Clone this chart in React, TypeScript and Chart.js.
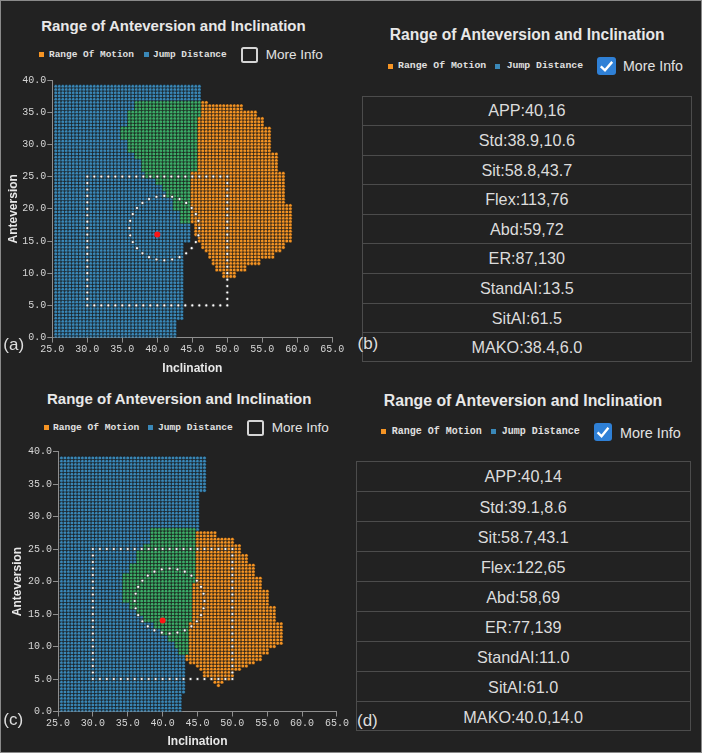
import React, { useEffect, useRef } from "react";
import { Chart, registerables } from "chart.js";

Chart.register(...registerables);

// ---------- axis / scale values ----------
const X_MIN = 25;
const X_MAX = 65;
const X_STEP = 5;
const Y_MIN = 0;
const Y_MAX = 40;
const Y_STEP = 5;
const GRID_STEP = 0.5;

// ---------- texts ----------
const TITLE = "Range of Anteversion and Inclination";
const X_TITLE = "Inclination";
const Y_TITLE = "Anteversion";
const LEGEND_LABELS = ["Range Of Motion", "Jump Distance"];
const CHECK_LABEL = "More Info";
const PANEL_LABELS = ["(a)", "(b)", "(c)", "(d)"];

const TABLE_B = ["APP:40,16", "Std:38.9,10.6", "Sit:58.8,43.7", "Flex:113,76", "Abd:59,72", "ER:87,130", "StandAI:13.5", "SitAI:61.5", "MAKO:38.4,6.0"];
const TABLE_D = ["APP:40,14", "Std:39.1,8.6", "Sit:58.7,43.1", "Flex:122,65", "Abd:58,69", "ER:77,139", "StandAI:11.0", "SitAI:61.0", "MAKO:40.0,14.0"];

// ---------- grid regions, rows of cells: [yTop, yBottom, xStart, xEnd] ----------
type Band = [number, number, number, number];

const BLUE_A: Band[] = [
  [39, 37, 25.5, 46],
  [36.5, 35.5, 25.5, 36.5],
  [35, 33, 25.5, 35.5],
  [32.5, 31, 25.5, 34.5],
  [30.5, 29, 25.5, 35.5],
  [28.5, 28, 25.5, 36.5],
  [27.5, 26, 25.5, 37.5],
  [25.5, 25, 25.5, 38],
  [24.5, 24, 25.5, 39.5],
  [23.5, 23, 25.5, 40.5],
  [22.5, 22, 25.5, 41],
  [21.5, 20, 25.5, 42],
  [19.5, 18, 25.5, 43],
  [17.5, 15, 25.5, 44.5],
  [14.5, 3, 25.5, 43.5],
  [2.5, 0, 25.5, 42.5],
];
const GREEN_A: Band[] = [
  [36.5, 35.5, 37, 46],
  [35, 34.5, 36, 46],
  [34, 33, 36, 45.5],
  [32.5, 31, 35, 45.5],
  [30.5, 29, 36, 45.5],
  [28.5, 28, 37, 45.5],
  [27.5, 26, 38, 45.5],
  [25.5, 25, 38.5, 44.5],
  [24.5, 24, 40, 44.5],
  [23.5, 23, 41, 44.5],
  [22.5, 22, 41.5, 44.5],
  [21.5, 20, 42.5, 44.5],
  [19.5, 18, 43.5, 44.5],
];
const ORANGE_A: Band[] = [
  [36.5, 36.5, 46.5, 47],
  [36, 35.5, 46.5, 52],
  [35, 34.5, 46.5, 54],
  [34, 33, 46, 55],
  [32.5, 29, 46, 56],
  [28.5, 26, 46, 57],
  [25.5, 21, 45, 58],
  [20.5, 18, 45, 59],
  [17.5, 16, 45.5, 59],
  [15.5, 15, 46, 59],
  [14.5, 14, 46.5, 58],
  [13.5, 13.5, 47, 57.5],
  [13, 12.5, 47.5, 56.5],
  [12, 11.5, 48, 54.5],
  [11, 10.5, 48.5, 52.5],
  [10, 9.5, 49.5, 51],
];

const BLUE_C: Band[] = [
  [39, 34, 25.5, 46],
  [33.5, 28.5, 25.5, 45],
  [28, 28, 45, 45],
  [28, 26, 25.5, 38],
  [25.5, 25, 25.5, 37],
  [24.5, 23, 25.5, 36],
  [22.5, 21.5, 25.5, 35],
  [21, 17, 25.5, 34],
  [16.5, 16, 25.5, 35],
  [15.5, 15, 25.5, 36],
  [14.5, 14, 25.5, 37],
  [13.5, 13, 25.5, 38.5],
  [12.5, 12, 25.5, 39.5],
  [11.5, 11, 25.5, 40.5],
  [10.5, 10, 25.5, 41.5],
  [9.5, 9, 25.5, 42],
  [8.5, 3, 25.5, 43],
  [2.5, 0, 25.5, 42.5],
];
const GREEN_C: Band[] = [
  [28, 26, 38.5, 44.5],
  [25.5, 25, 37.5, 44.5],
  [24.5, 23, 36.5, 44.5],
  [22.5, 21.5, 35.5, 44.5],
  [21, 20, 34.5, 44.5],
  [19.5, 17, 34.5, 44],
  [16.5, 16, 35.5, 44],
  [15.5, 15, 36.5, 44],
  [14.5, 14, 37.5, 44],
  [13.5, 13, 39, 43.5],
  [12.5, 12, 40, 43.5],
  [11.5, 11, 41, 43.5],
  [10.5, 10, 42, 43.5],
  [9.5, 9, 42.5, 43.5],
];
const ORANGE_C: Band[] = [
  [27.5, 27, 45, 47.5],
  [26.5, 26, 45, 50],
  [25.5, 24.5, 45, 51],
  [24, 23, 45, 52],
  [22.5, 21, 45, 53],
  [20.5, 20, 45, 54],
  [19.5, 19, 44.5, 54],
  [18.5, 16.5, 44.5, 55],
  [16, 14, 44.5, 56],
  [13.5, 10.5, 44, 57],
  [10, 10, 44, 56],
  [9.5, 9, 44, 55],
  [8.5, 8, 43.5, 54],
  [7.5, 7.5, 44, 53],
  [7, 7, 45, 52],
  [6.5, 6.5, 45.5, 51],
  [6, 5.5, 46, 50],
  [5, 5, 47, 49.5],
  [4.5, 4.5, 47.5, 48.5],
  [4, 4, 48, 48],
];

const APP_A = [40, 16];
const APP_C = [40, 14];
const SAFE_RECT = [30, 50, 5, 25]; // xMin, xMax, yMin, yMax
const SAFE_CIRCLE = [41, 17, 5]; // cx, cy, r
const CIRCLE_DOTS = 28;

const COLORS = {
  bg: "#222222",
  blue: "#3a88b8",
  green: "#3cad68",
  orange: "#f59424",
  red: "#ff1414",
  axis: "#8e8e8e",
  tick: "#d6d6d6",
  text: "#e8e8e8",
  table: "#4c4c4c",
};

const SANS = "'Liberation Sans', Arial, sans-serif";
const MONO = "'Liberation Mono', 'DejaVu Sans Mono', monospace";

function expand(bands: Band[]) {
  const pts: { x: number; y: number }[] = [];
  for (const [yt, yb, xs, xe] of bands) {
    for (let y = yt; y >= yb - 1e-9; y -= GRID_STEP) {
      for (let x = xs; x <= xe + 1e-9; x += GRID_STEP) {
        pts.push({ x: Math.round(x * 2) / 2, y: Math.round(y * 2) / 2 });
      }
    }
  }
  return pts;
}

const overlayPlugin = {
  id: "safeZone",
  afterDatasetsDraw(chart: any) {
    const { ctx, scales } = chart;
    const sx = scales.x;
    const sy = scales.y;
    const dot = (vx: number, vy: number) => {
      const px = sx.getPixelForValue(vx);
      const py = sy.getPixelForValue(vy);
      ctx.save();
      ctx.beginPath();
      ctx.arc(px, py, 1.9, 0, Math.PI * 2);
      ctx.fillStyle = "rgba(70,70,70,0.8)";
      ctx.fill();
      ctx.beginPath();
      ctx.arc(px, py, 1.1, 0, Math.PI * 2);
      ctx.fillStyle = "#ffffff";
      ctx.fill();
      ctx.restore();
    };
    const [x0, x1, y0, y1] = SAFE_RECT;
    for (let v = x0; v <= x1; v += 1) {
      dot(v, y1);
      dot(v, y0);
    }
    for (let v = y0 + 1; v < y1; v += 1) {
      dot(x0, v);
      dot(x1, v);
    }
    const [cx, cy, r] = SAFE_CIRCLE;
    for (let k = 0; k < CIRCLE_DOTS; k++) {
      const a = (k / CIRCLE_DOTS) * Math.PI * 2;
      dot(cx + r * Math.cos(a), cy + r * Math.sin(a));
    }
  },
};

type PanelProps = {
  left: number;
  top: number;
  width: number;
  height: number;
  pad: { left: number; right: number; top: number; bottom: number };
  yWidth: number;
  xHeight: number;
  yTitlePad: number;
  blue: Band[];
  green: Band[];
  orange: Band[];
  app: number[];
};

function ScatterPanel(p: PanelProps) {
  const ref = useRef<HTMLCanvasElement>(null);
  useEffect(() => {
    if (!ref.current) return;
    const pointDs = (data: any[], color: string, label: string) => ({
      label,
      data,
      backgroundColor: color,
      borderColor: "rgba(22,22,22,0.9)",
      borderWidth: 0.55,
      pointRadius: 1.85,
      pointHoverRadius: 1.85,
    });
    const tickFont = { family: MONO, size: 10 };
    const titleFont = { family: SANS, size: 12, weight: "bold" as const };
    const chart = new Chart(ref.current, {
      type: "scatter",
      data: {
        datasets: [
          {
            label: "APP",
            data: [{ x: p.app[0], y: p.app[1] }],
            backgroundColor: COLORS.red,
            borderWidth: 0,
            pointRadius: 3,
          },
          pointDs(expand(p.orange), COLORS.orange, LEGEND_LABELS[0]),
          pointDs(expand(p.green), COLORS.green, "Overlap"),
          pointDs(expand(p.blue), COLORS.blue, LEGEND_LABELS[1]),
        ],
      },
      options: {
        responsive: false,
        animation: false,
        events: [],
        layout: { padding: p.pad },
        plugins: { legend: { display: false }, tooltip: { enabled: false } },
        scales: {
          x: {
            type: "linear",
            min: X_MIN,
            max: X_MAX,
            afterFit: (s: any) => {
              s.height = p.xHeight;
            },
            ticks: {
              stepSize: X_STEP,
              color: COLORS.tick,
              font: tickFont,
              padding: 1,
              maxRotation: 0,
              callback: (v: any) => Number(v).toFixed(1),
            },
            grid: { drawOnChartArea: false, drawTicks: true, tickLength: 5, color: COLORS.axis },
            border: { display: true, color: COLORS.axis },
            title: { display: true, text: X_TITLE, color: COLORS.text, font: titleFont, padding: { top: 0, bottom: 4 } },
          },
          y: {
            type: "linear",
            min: Y_MIN,
            max: Y_MAX,
            afterFit: (s: any) => {
              s.width = p.yWidth;
            },
            ticks: {
              stepSize: Y_STEP,
              color: COLORS.tick,
              font: tickFont,
              padding: 1,
              callback: (v: any) => Number(v).toFixed(1),
            },
            grid: { drawOnChartArea: false, drawTicks: true, tickLength: 5, color: COLORS.axis },
            border: { display: true, color: COLORS.axis },
            title: { display: true, text: Y_TITLE, color: COLORS.text, font: titleFont, padding: { top: p.yTitlePad, bottom: 0 } },
          },
        },
      },
      plugins: [overlayPlugin],
    });
    return () => chart.destroy();
  }, []);
  return (
    <canvas
      ref={ref}
      width={p.width}
      height={p.height}
      style={{ position: "absolute", left: p.left, top: p.top, width: p.width, height: p.height }}
    />
  );
}

type HeaderProps = {
  titleCx: number;
  titleCy: number;
  titleSize: number;
  legCy: number;
  legSize: number;
  sq1: number;
  txt1: number;
  sq2: number;
  txt2: number;
  cb: { left: number; top: number; w: number; h: number };
  checked: boolean;
  miLeft: number;
  miCy: number;
  miSize: number;
};

function Header(h: HeaderProps) {
  const sq = (cx: number, color: string) => (
    <div style={{ position: "absolute", left: cx - 2.5, top: h.legCy - 2.5, width: 5, height: 5, background: color }} />
  );
  const legText = (left: number, text: string) => (
    <div
      style={{
        position: "absolute",
        left,
        top: h.legCy - h.legSize / 2,
        fontFamily: MONO,
        fontSize: h.legSize,
        lineHeight: `${h.legSize}px`,
        color: "#e0e0e0",
        fontWeight: "bold",
        whiteSpace: "nowrap",
      }}
    >
      {text}
    </div>
  );
  return (
    <>
      <div
        style={{
          position: "absolute",
          left: h.titleCx - 200,
          width: 400,
          top: h.titleCy - h.titleSize / 2,
          textAlign: "center",
          fontFamily: SANS,
          fontWeight: "bold",
          fontSize: h.titleSize,
          lineHeight: `${h.titleSize}px`,
          color: COLORS.text,
          whiteSpace: "nowrap",
        }}
      >
        {TITLE}
      </div>
      {sq(h.sq1, COLORS.orange)}
      {legText(h.txt1, LEGEND_LABELS[0])}
      {sq(h.sq2, COLORS.blue)}
      {legText(h.txt2, LEGEND_LABELS[1])}
      {h.checked ? (
        <div
          style={{
            position: "absolute",
            left: h.cb.left,
            top: h.cb.top,
            width: h.cb.w,
            height: h.cb.h,
            background: "#2f80d6",
            borderRadius: 3,
          }}
        >
          <svg width={h.cb.w} height={h.cb.h} style={{ position: "absolute", left: 0, top: 0 }}>
            <polyline
              points={`${h.cb.w * 0.2},${h.cb.h * 0.52} ${h.cb.w * 0.42},${h.cb.h * 0.74} ${h.cb.w * 0.8},${h.cb.h * 0.27}`}
              fill="none"
              stroke="#ffffff"
              strokeWidth={2.4}
            />
          </svg>
        </div>
      ) : (
        <div
          style={{
            position: "absolute",
            left: h.cb.left,
            top: h.cb.top,
            width: h.cb.w,
            height: h.cb.h,
            boxSizing: "border-box",
            border: "2px solid #d6d6d6",
            borderRadius: 2.5,
          }}
        />
      )}
      <div
        style={{
          position: "absolute",
          left: h.miLeft,
          top: h.miCy - h.miSize / 2,
          fontFamily: SANS,
          fontSize: h.miSize,
          lineHeight: `${h.miSize}px`,
          color: "#e2e2e2",
          whiteSpace: "nowrap",
        }}
      >
        {CHECK_LABEL}
      </div>
    </>
  );
}

function InfoTable({ left, top, width, rowH, rows }: { left: number; top: number; width: number; rowH: number; rows: string[] }) {
  return (
    <div
      style={{
        position: "absolute",
        left,
        top,
        width,
        height: rowH * rows.length,
        boxSizing: "border-box",
        border: `1px solid ${COLORS.table}`,
      }}
    >
      {rows.map((r, i) => (
        <div
          key={i}
          style={{
            position: "absolute",
            left: 0,
            right: 0,
            top: i * rowH - 1,
            height: rowH,
            boxSizing: "border-box",
            borderTop: i === 0 ? "none" : `1px solid ${COLORS.table}`,
            textAlign: "center",
            fontFamily: SANS,
            fontSize: 16.2,
            lineHeight: `${rowH}px`,
            color: "#dcdcdc",
            whiteSpace: "nowrap",
          }}
        >
          {r}
        </div>
      ))}
    </div>
  );
}

function PanelLabel({ left, cy, text }: { left: number; cy: number; text: string }) {
  return (
    <div
      style={{
        position: "absolute",
        left,
        top: cy - 8.5,
        fontFamily: SANS,
        fontSize: 17,
        lineHeight: "17px",
        color: "#dedede",
      }}
    >
      {text}
    </div>
  );
}

export default function App() {
  return (
    <div
      style={{
        position: "absolute",
        left: 0,
        top: 0,
        width: 702,
        height: 753,
        background: COLORS.bg,
        boxSizing: "border-box",
        border: "1px solid #8a8a8a",
        overflow: "hidden",
      }}
    >
      <div style={{ position: "absolute", left: -1, top: -1, width: 702, height: 753 }}>
        {/* panel (a) */}
        <Header
          titleCx={173.4}
          titleCy={25}
          titleSize={15}
          legCy={54.3}
          legSize={9.45}
          sq1={41.7}
          txt1={49}
          sq2={146}
          txt2={153}
          cb={{ left: 240.7, top: 46.7, w: 17, h: 16 }}
          checked={false}
          miLeft={265.7}
          miCy={54.5}
          miSize={13.5}
        />
        <ScatterPanel
          left={0}
          top={70}
          width={350}
          height={310}
          pad={{ left: 2, right: 17.7, top: 10, bottom: 0 }}
          yWidth={50.3}
          xHeight={42.4}
          yTitlePad={4}
          blue={BLUE_A}
          green={GREEN_A}
          orange={ORANGE_A}
          app={APP_A}
        />
        <PanelLabel left={3.3} cy={344.3} text={PANEL_LABELS[0]} />

        {/* panel (b) */}
        <Header
          titleCx={527.2}
          titleCy={35}
          titleSize={15.6}
          legCy={66}
          legSize={9.8}
          sq1={390}
          txt1={398}
          sq2={497.7}
          txt2={506.7}
          cb={{ left: 597, top: 57, w: 19, h: 18 }}
          checked={true}
          miLeft={623}
          miCy={66.5}
          miSize={14.2}
        />
        <InfoTable left={361.7} top={95.7} width={330.3} rowH={29.56} rows={TABLE_B} />
        <PanelLabel left={357.5} cy={343.5} text={PANEL_LABELS[1]} />

        {/* panel (c) */}
        <Header
          titleCx={179.2}
          titleCy={398.3}
          titleSize={15}
          legCy={427.3}
          legSize={9.6}
          sq1={46}
          txt1={53}
          sq2={150.7}
          txt2={158}
          cb={{ left: 246.7, top: 420, w: 17, h: 16 }}
          checked={false}
          miLeft={271.7}
          miCy={428}
          miSize={13.5}
        />
        <ScatterPanel
          left={0}
          top={440}
          width={350}
          height={313}
          pad={{ left: 6, right: 12, top: 11.5, bottom: 0 }}
          yWidth={52}
          xHeight={41.5}
          yTitlePad={4}
          blue={BLUE_C}
          green={GREEN_C}
          orange={ORANGE_C}
          app={APP_C}
        />
        <PanelLabel left={3.3} cy={719.3} text={PANEL_LABELS[2]} />

        {/* panel (d) */}
        <Header
          titleCx={523}
          titleCy={400.7}
          titleSize={15.8}
          legCy={431.7}
          legSize={10}
          sq1={383.7}
          txt1={391.7}
          sq2={493}
          txt2={501.7}
          cb={{ left: 594, top: 423, w: 18, h: 18 }}
          checked={true}
          miLeft={620}
          miCy={433}
          miSize={14.4}
        />
        <InfoTable left={355.7} top={461} width={335} rowH={30} rows={TABLE_D} />
        <PanelLabel left={357} cy={720} text={PANEL_LABELS[3]} />
      </div>
    </div>
  );
}
